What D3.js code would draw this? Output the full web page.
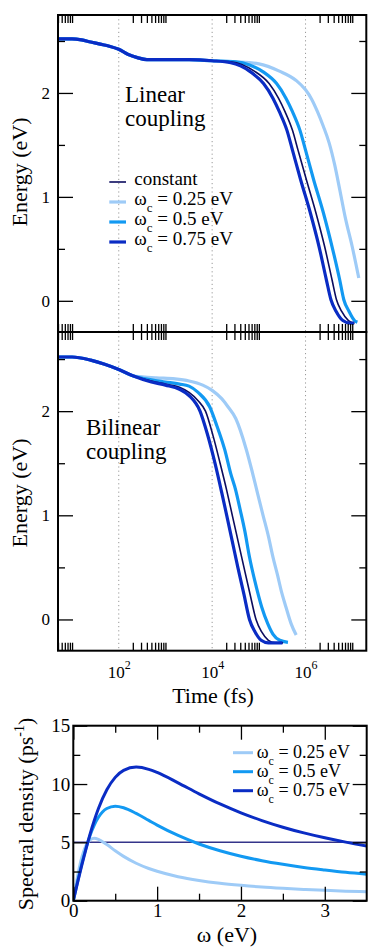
<!DOCTYPE html>
<html><head><meta charset="utf-8">
<script src="https://cdn.jsdelivr.net/npm/d3@7"></script>
<style>
body{margin:0;background:#fff}
svg{display:block}
text{font-family:"Liberation Serif","Times New Roman",Times,serif;fill:#000}
</style>
</head><body>
<svg id="c" width="368" height="947"></svg>
<script>
// ---------- DATA ----------
const seriesNames = ["constant", "ωc = 0.25 eV", "ωc = 0.5 eV", "ωc = 0.75 eV"];
const seriesColors = ["#0c0c5e", "#9ecbf7", "#1299f2", "#0a2cc4"];

// Linear coupling: shared early part (time in fs, energy in eV)
const linCommonT = [5, 10, 16, 25, 40, 63, 100, 160, 250, 400, 630, 1000, 3200, 10000];
const linCommonE = [2.52, 2.52, 2.51, 2.49, 2.47, 2.45, 2.42, 2.37, 2.34, 2.32, 2.32, 2.32, 2.32, 2.31];
const linConstT = [2.5e4, 8e4, 1.66e5, 2.63e5, 3.63e5, 5.25e5, 6.9e5, 1.05e6, 1.66e6, 2.57e6, 3.7e6, 4.6e6, 5.9e6, 8.3e6, 1.12e7];
const linConstE = [2.30, 2.21, 2.09, 1.95, 1.82, 1.64, 1.45, 1.16, 0.85, 0.52, 0.20, 0.01, -0.10, -0.19, -0.215];
const lin025T = [3.2e4, 1e5, 2.75e5, 6.3e5, 1e6, 1.35e6, 1.8e6, 2.4e6, 3.2e6, 4.2e6, 5.4e6, 7.1e6, 1e7, 1.38e7];
const lin025E = [2.30, 2.28, 2.21, 2.12, 2.03, 1.94, 1.82, 1.68, 1.52, 1.31, 1.07, 0.80, 0.52, 0.22];
const lin05T = [3.2e4, 6.3e4, 1.26e5, 2.4e5, 3.8e5, 5.25e5, 7.6e5, 1e6, 1.5e6, 2.4e6, 3.7e6, 5.4e6, 6.6e6, 8.5e6, 1.12e7, 1.29e7];
const lin05E = [2.30, 2.27, 2.20, 2.09, 1.95, 1.82, 1.64, 1.45, 1.16, 0.85, 0.52, 0.20, 0.01, -0.10, -0.19, -0.205];
const lin075T = [2.5e4, 6.3e4, 1.26e5, 2e5, 2.75e5, 4e5, 5.25e5, 7.9e5, 1.26e6, 1.95e6, 2.8e6, 3.5e6, 4.5e6, 6.3e6, 8.9e6, 1.1e7];
const lin075E = [2.29, 2.21, 2.09, 1.95, 1.82, 1.64, 1.45, 1.16, 0.85, 0.52, 0.20, 0.01, -0.10, -0.19, -0.215, -0.215];

// Bilinear coupling
const bilCommonT = [5, 10, 25, 50, 100, 200];
const bilCommonE = [2.52, 2.52, 2.49, 2.45, 2.40, 2.34];
const bilConstT = [500, 1000, 2000, 3200, 5000, 7200, 1.05e4, 1.48e4, 2.05e4, 2.7e4, 3.6e4, 4.8e4, 6.5e4, 8.7e4, 1.15e5, 1.6e5, 2.25e5, 3.3e5];
const bilConstE = [2.29, 2.26, 2.23, 2.18, 2.10, 2.00, 1.76, 1.50, 1.24, 1.00, 0.75, 0.50, 0.24, 0.00, -0.12, -0.20, -0.225, -0.225];
const bil025T = [320, 630, 1600, 3200, 6300, 1e4, 1.6e4, 2.2e4, 3.2e4, 5.4e4, 7.1e4, 9.5e4, 1.23e5, 1.6e5, 2e5, 2.5e5, 3e5, 3.8e5, 4.9e5, 6.3e5];
const bil025E = [2.33, 2.32, 2.31, 2.29, 2.25, 2.20, 2.12, 2.04, 1.93, 1.63, 1.43, 1.20, 1.00, 0.80, 0.60, 0.43, 0.28, 0.12, -0.04, -0.15];
const bil05T = [500, 1000, 2000, 3200, 5000, 8900, 1.26e4, 1.86e4, 2.5e4, 3.2e4, 4e4, 5e4, 6.3e4, 8.3e4, 1.15e5, 1.55e5, 2e5, 2.8e5, 4.2e5];
const bil05E = [2.30, 2.28, 2.26, 2.24, 2.18, 2.04, 1.86, 1.63, 1.40, 1.24, 1.05, 0.85, 0.60, 0.36, 0.12, -0.04, -0.14, -0.20, -0.22];
const bil075T = [500, 1000, 2000, 3200, 5500, 7900, 1.15e4, 1.6e4, 2.05e4, 2.7e4, 3.55e4, 4.8e4, 6.3e4, 8.3e4, 1.12e5, 1.6e5, 3.2e5];
const bil075E = [2.28, 2.25, 2.21, 2.15, 2.00, 1.78, 1.50, 1.22, 1.00, 0.75, 0.50, 0.24, 0.00, -0.12, -0.20, -0.225, -0.225];

const energyTicks = [0, 1, 2];
const energyMinor = [0.5, 1.5, 2.5];
const timeLabels = [1e2, 1e4, 1e6];

// Spectral densities
const omega = [0, 0.05, 0.1, 0.15, 0.2, 0.25, 0.3, 0.4, 0.5, 0.6, 0.75, 0.9, 1.0, 1.25, 1.5, 1.75, 2.0, 2.25, 2.5, 2.75, 3.0, 3.25, 3.5];
const spec025 = [0, 2.06, 3.69, 4.72, 5.22, 5.35, 5.26, 4.81, 4.28, 3.80, 3.21, 2.76, 2.52, 2.06, 1.74, 1.50, 1.32, 1.17, 1.06, 0.97, 0.89, 0.82, 0.76];
const spec05 = [0, 1.60, 3.12, 4.46, 5.59, 6.48, 7.15, 7.90, 8.10, 7.97, 7.48, 6.88, 6.48, 5.59, 4.86, 4.28, 3.81, 3.43, 3.12, 2.85, 2.63, 2.43, 2.27];
const spec075 = [0, 1.52, 3.00, 4.40, 5.70, 6.87, 7.90, 9.51, 10.57, 11.17, 11.45, 11.26, 10.99, 10.10, 9.16, 8.29, 7.53, 6.87, 6.30, 5.81, 5.39, 5.02, 4.69];
const specConst = 5;
const specXTicks = [0, 1, 2, 3];
const specXMinor = [0.5, 1.5, 2.5];
const specYTicks = [0, 5, 10, 15];
const specYMinor = [2.5, 7.5, 12.5];

// ---------- DRAW ----------
const FONT = '"Liberation Serif","Times New Roman",Times,serif';
const svg = d3.select("#c");
const X0 = 58, X1 = 366.3;
const x = d3.scaleLog().domain([5, 2e7]).range([X0, X1]);
const minorT = [];
[0, 2, 4, 6].forEach(n => { for (let k = 2; k <= 10; k++) { const v = k * Math.pow(10, n); if (v >= 5 && v <= 2e7) minorT.push(v); } });

const widths = [1.6, 3.2, 3.2, 3.2];
const drawOrder = [1, 2, 0, 3];

function zip(T, E) { return T.map((t, i) => [t, E[i]]); }

const panels = [
  { top: 15, bottom: 332, dom: [-0.3, 2.75], commonT: linCommonT, commonE: linCommonE,
    series: [[linConstT, linConstE], [lin025T, lin025E], [lin05T, lin05E], [lin075T, lin075E]],
    label: ["Linear", "coupling"], lx: 125, ly: 102.3, titleY: 172, id: "p1" },
  { top: 332, bottom: 650.7, dom: [-0.3, 2.76], commonT: bilCommonT, commonE: bilCommonE,
    series: [[bilConstT, bilConstE], [bil025T, bil025E], [bil05T, bil05E], [bil075T, bil075E]],
    label: ["Bilinear", "coupling"], lx: 86, ly: 435, titleY: 493, id: "p2" }
];

function styleAxis(g, fs) {
  g.attr("font-family", FONT);
  g.select(".domain").remove();
  g.selectAll("line").attr("stroke", "#000").attr("stroke-width", 1.3);
  g.selectAll("text").attr("font-family", FONT).attr("font-size", fs).attr("fill", "#000");
}

panels.forEach((p, pi) => {
  const y = d3.scaleLinear().domain(p.dom).range([p.bottom, p.top]);
  svg.append("clipPath").attr("id", p.id).append("rect")
    .attr("x", X0).attr("y", p.top).attr("width", X1 - X0).attr("height", p.bottom - p.top);

  svg.append("g").selectAll("line").data(timeLabels).join("line")
    .attr("x1", d => x(d)).attr("x2", d => x(d)).attr("y1", p.top).attr("y2", p.bottom)
    .attr("stroke", "#999").attr("stroke-width", 1).attr("stroke-dasharray", "1.2,3");

  const line = d3.line().x(d => x(d[0])).y(d => y(d[1])).curve(d3.curveMonotoneX);
  const cg = svg.append("g").attr("clip-path", `url(#${p.id})`);
  drawOrder.forEach(si => {
    const s = p.series[si];
    const pts = zip(p.commonT, p.commonE).concat(zip(s[0], s[1]));
    cg.append("path").datum(pts).attr("d", line).attr("fill", "none")
      .attr("stroke", seriesColors[si]).attr("stroke-width", widths[si])
      .attr("stroke-linejoin", "round").attr("stroke-linecap", "butt");
  });

  svg.append("g").attr("transform", `translate(${X0},0)`)
    .call(d3.axisLeft(y).tickValues(energyTicks).tickSize(-15).tickPadding(8).tickFormat(d3.format("d")))
    .call(g => styleAxis(g, 17));
  svg.append("g").attr("transform", `translate(${X0},0)`)
    .call(d3.axisLeft(y).tickValues(energyMinor).tickSize(-7).tickFormat(""))
    .call(g => styleAxis(g, 17));
  svg.append("g").attr("transform", `translate(${X1},0)`)
    .call(d3.axisRight(y).tickValues(energyTicks).tickSize(-15).tickFormat(""))
    .call(g => styleAxis(g, 17));
  svg.append("g").attr("transform", `translate(${X1},0)`)
    .call(d3.axisRight(y).tickValues(energyMinor).tickSize(-7).tickFormat(""))
    .call(g => styleAxis(g, 17));
  svg.append("g").attr("transform", `translate(0,${p.top})`)
    .call(d3.axisTop(x).tickValues(minorT).tickSize(-8).tickFormat(""))
    .call(g => styleAxis(g, 17));
  svg.append("g").attr("transform", `translate(0,${p.bottom})`)
    .call(d3.axisBottom(x).tickValues(minorT).tickSize(-8).tickFormat(""))
    .call(g => styleAxis(g, 17));

  svg.append("rect").attr("x", X0).attr("y", p.top).attr("width", X1 - X0).attr("height", p.bottom - p.top)
    .attr("fill", "none").attr("stroke", "#000").attr("stroke-width", 2);

  const tl = svg.append("text").attr("font-size", 23).attr("font-family", FONT);
  tl.append("tspan").attr("x", p.lx).attr("y", p.ly).text(p.label[0]);
  tl.append("tspan").attr("x", p.lx).attr("y", p.ly + 24).text(p.label[1]);

  svg.append("text").attr("transform", `translate(27,${p.titleY}) rotate(-90)`)
    .attr("text-anchor", "middle").attr("font-size", 22).attr("font-family", FONT).text("Energy (eV)");

  if (pi === 1) {
    const gx = svg.append("g").attr("transform", `translate(0,${p.bottom})`)
      .call(d3.axisBottom(x).tickValues(timeLabels).tickSize(0).tickFormat(""))
      .call(g => styleAxis(g, 17));
    gx.selectAll(".tick text").attr("y", 27).attr("dy", 0).each(function (d) {
      const t = d3.select(this);
      t.append("tspan").text("10");
      t.append("tspan").attr("font-size", 12).attr("dy", -9).text(Math.round(Math.log10(d)));
    });
    svg.append("text").attr("x", 213).attr("y", 702.5).attr("text-anchor", "middle")
      .attr("font-size", 22).attr("font-family", FONT).text("Time (fs)");
  }
});

const legY = [185, 205, 225, 245];
const leg = svg.append("g").attr("font-family", FONT);
seriesNames.forEach((n, i) => {
  leg.append("line").attr("x1", 109.3).attr("x2", 126).attr("y1", legY[i] - 3).attr("y2", legY[i] - 3)
    .attr("stroke", seriesColors[i]).attr("stroke-width", widths[i]);
  const t = leg.append("text").attr("x", 134.3).attr("y", legY[i]).attr("font-size", 19);
  if (i === 0) t.text(n);
  else {
    t.append("tspan").text("ω");
    t.append("tspan").attr("font-size", 13).attr("dy", 7).text("c");
    t.append("tspan").attr("dy", -7).text(n.slice(2));
  }
});

// ---------- Spectral density panel ----------
const SX0 = 73.3, SX1 = 366.7, SY0 = 725.7, SY1 = 900.7;
const xs = d3.scaleLinear().domain([0, 3.5]).range([SX0, SX1]);
const ys = d3.scaleLinear().domain([0, 15]).range([SY1, SY0]);
svg.append("clipPath").attr("id", "p3").append("rect")
  .attr("x", SX0).attr("y", SY0).attr("width", SX1 - SX0).attr("height", SY1 - SY0);
const sg = svg.append("g").attr("clip-path", "url(#p3)");
const sline = d3.line().x((d, i) => xs(omega[i])).y(d => ys(d)).curve(d3.curveMonotoneX);
sg.append("line").attr("x1", xs(0)).attr("x2", xs(3.5)).attr("y1", ys(specConst)).attr("y2", ys(specConst))
  .attr("stroke", "#34348a").attr("stroke-width", 1.5);
[[spec025, 1], [spec05, 2], [spec075, 3]].forEach(([arr, ci]) => {
  sg.append("path").datum(arr).attr("d", sline).attr("fill", "none")
    .attr("stroke", seriesColors[ci]).attr("stroke-width", 3);
});
svg.append("g").attr("transform", `translate(${SX0},0)`)
  .call(d3.axisLeft(ys).tickValues(specYTicks).tickSize(-14).tickPadding(3).tickFormat(d3.format("d")))
  .call(g => styleAxis(g, 19));
svg.append("g").attr("transform", `translate(${SX0},0)`)
  .call(d3.axisLeft(ys).tickValues(specYMinor).tickSize(-7).tickFormat("")).call(g => styleAxis(g, 19));
svg.append("g").attr("transform", `translate(${SX1},0)`)
  .call(d3.axisRight(ys).tickValues(specYTicks).tickSize(-14).tickFormat("")).call(g => styleAxis(g, 19));
svg.append("g").attr("transform", `translate(${SX1},0)`)
  .call(d3.axisRight(ys).tickValues(specYMinor).tickSize(-7).tickFormat("")).call(g => styleAxis(g, 19));
svg.append("g").attr("transform", `translate(0,${SY1})`)
  .call(d3.axisBottom(xs).tickValues(specXTicks).tickSize(-14).tickPadding(3).tickFormat(d3.format("d")))
  .call(g => styleAxis(g, 19));
svg.append("g").attr("transform", `translate(0,${SY1})`)
  .call(d3.axisBottom(xs).tickValues(specXMinor).tickSize(-7).tickFormat("")).call(g => styleAxis(g, 19));
svg.append("g").attr("transform", `translate(0,${SY0})`)
  .call(d3.axisTop(xs).tickValues(specXTicks).tickSize(-14).tickFormat("")).call(g => styleAxis(g, 19));
svg.append("g").attr("transform", `translate(0,${SY0})`)
  .call(d3.axisTop(xs).tickValues(specXMinor).tickSize(-7).tickFormat("")).call(g => styleAxis(g, 19));
svg.append("rect").attr("x", SX0).attr("y", SY0).attr("width", SX1 - SX0).attr("height", SY1 - SY0)
  .attr("fill", "none").attr("stroke", "#000").attr("stroke-width", 2);

const sLegY = [757.7, 776.7, 795.7];
[1, 2, 3].forEach((ci, i) => {
  svg.append("line").attr("x1", 233).attr("x2", 253).attr("y1", sLegY[i] - 5).attr("y2", sLegY[i] - 5)
    .attr("stroke", seriesColors[ci]).attr("stroke-width", 3);
  const t = svg.append("text").attr("x", 256.7).attr("y", sLegY[i]).attr("font-size", 18).attr("font-family", FONT);
  t.append("tspan").text("ω");
  t.append("tspan").attr("font-size", 12).attr("dy", 7).text("c");
  t.append("tspan").attr("dy", -7).text(seriesNames[ci].slice(2));
});

const st = svg.append("text").attr("transform", `translate(33,814) rotate(-90)`)
  .attr("text-anchor", "middle").attr("font-size", 22).attr("font-family", FONT);
st.append("tspan").text("Spectral density (ps");
st.append("tspan").attr("font-size", 14).attr("dy", -9).text("-1");
st.append("tspan").attr("dy", 9).text(")");
svg.append("text").attr("x", 227).attr("y", 942).attr("text-anchor", "middle").attr("font-size", 22)
  .attr("font-family", FONT).text("ω (eV)");
</script>
</body></html>
